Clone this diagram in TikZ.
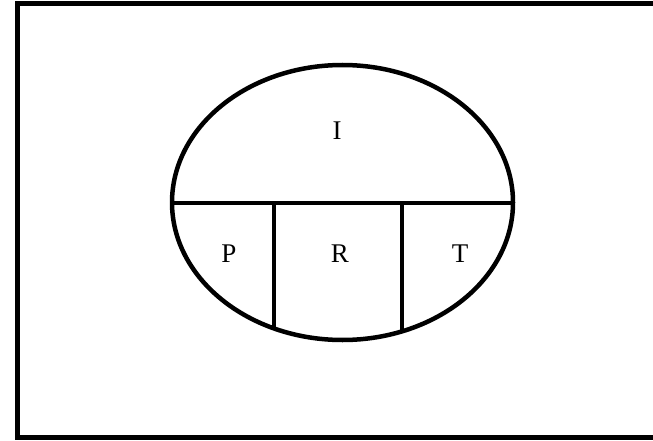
\documentclass[tikz,border=0pt]{standalone}
\usepackage{fontspec}
\setmainfont{Liberation Serif}
\begin{document}
\begin{tikzpicture}[x=1pt,y=-1pt]

\useasboundingbox (0,0) rectangle (653,441);

% Cadre
\begin{scope}
\clip (0,0) rectangle (653,441);
\draw[line width=5pt] (17.5,3.5) rectangle (680,437.5);
\end{scope}

% Ellipse
\begin{scope}

\draw[line width=4.5pt] (342.5,202.5) ellipse (170.5 and 137.5);

\coordinate (gauche) at (172,203);
\coordinate (droite) at (513,203);
\draw[line width=4.5pt] (gauche) -- (droite);

\coordinate (hautP) at (274,203);
\coordinate (basP) at (274,330);
\draw[line width=4.5pt] (hautP) -- (basP);

\coordinate (hautT) at (402,203);
\coordinate (basT) at (402,333);
\draw[line width=4.5pt] (hautT) -- (basT);

\node[anchor=base,inner sep=0pt,font=\fontsize{27}{31}\selectfont] (lblI) at (337,139.5) {I};
\node[anchor=base,inner sep=0pt,font=\fontsize{27}{31}\selectfont] (lblP) at (229,262.5) {P};
\node[anchor=base,inner sep=0pt,font=\fontsize{27}{31}\selectfont] (lblR) at (340,262.5) {R};
\node[anchor=base,inner sep=0pt,font=\fontsize{27}{31}\selectfont] (lblT) at (460,262.5) {T};

\end{scope}

\end{tikzpicture}
\end{document}
